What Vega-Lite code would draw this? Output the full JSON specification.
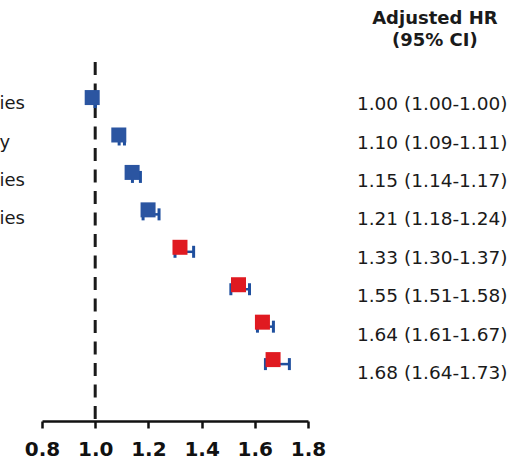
{
  "$schema": "https://vega.github.io/schema/vega-lite/v6.json",
  "autosize": {"type": "none"},
  "padding": {"left": 42, "top": 62, "right": 204, "bottom": 46},
  "width": 266,
  "height": 359,
  "background": "white",
  "config": {
    "view": {"stroke": null},
    "font": "DejaVu Sans",
    "axisX": {
      "values": [0.8, 1.0, 1.2, 1.4, 1.6, 1.8],
      "format": ".1f",
      "grid": false,
      "labelFont": "DejaVu Sans",
      "labelFontWeight": "bold",
      "labelFontSize": 20,
      "labelColor": "#111111",
      "labelPadding": 11,
      "labelFlush": false,
      "labelOverlap": false,
      "domainColor": "#111111",
      "domainWidth": 2.5,
      "tickColor": "#111111",
      "tickWidth": 2.5,
      "tickSize": 7
    }
  },
  "datasets": {
    "rows": [
      {"row": 1, "hr": 1.00, "lo": 1.00, "hi": 1.00, "tier": "reference", "label": "ies"},
      {"row": 2, "hr": 1.10, "lo": 1.09, "hi": 1.11, "tier": "reference", "label": "y"},
      {"row": 3, "hr": 1.15, "lo": 1.14, "hi": 1.17, "tier": "reference", "label": "ies"},
      {"row": 4, "hr": 1.21, "lo": 1.18, "hi": 1.24, "tier": "reference", "label": "ies"},
      {"row": 5, "hr": 1.33, "lo": 1.30, "hi": 1.37, "tier": "elevated", "label": ""},
      {"row": 6, "hr": 1.55, "lo": 1.51, "hi": 1.58, "tier": "elevated", "label": ""},
      {"row": 7, "hr": 1.64, "lo": 1.61, "hi": 1.67, "tier": "elevated", "label": ""},
      {"row": 8, "hr": 1.68, "lo": 1.64, "hi": 1.73, "tier": "elevated", "label": ""}
    ],
    "header": [
      {"line": "Adjusted HR", "pos": -1.22},
      {"line": "(95% CI)", "pos": -0.64}
    ],
    "reference": [{"ref": 1.0}]
  },
  "data": {"name": "rows"},
  "layer": [
    {
      "layer": [
        {
          "data": {"name": "reference"},
          "mark": {"type": "rule", "color": "#1a1a1a", "strokeWidth": 3, "strokeDash": [13, 8.5]},
          "encoding": {
            "x": {"field": "ref", "type": "quantitative", "title": null,
                  "scale": {"domain": [0.8, 1.8], "nice": false, "zero": false}}
          }
        },
        {
          "mark": {"type": "rule", "color": "#1f4f9e", "strokeWidth": 2.5, "opacity": 1},
          "encoding": {
            "x": {"field": "lo", "type": "quantitative", "title": null,
                  "scale": {"domain": [0.8, 1.8], "nice": false, "zero": false}},
            "x2": {"field": "hi"},
            "y": {"field": "row", "type": "quantitative", "axis": null,
                  "scale": {"domain": [-0.07, 9.52], "nice": false, "zero": false, "reverse": true}}
          }
        },
        {
          "mark": {"type": "tick", "orient": "vertical", "color": "#1f4f9e", "size": 12, "thickness": 3, "opacity": 1},
          "encoding": {
            "x": {"field": "lo", "type": "quantitative", "title": null,
                  "scale": {"domain": [0.8, 1.8], "nice": false, "zero": false}},
            "y": {"field": "row", "type": "quantitative", "axis": null,
                  "scale": {"domain": [-0.07, 9.52], "nice": false, "zero": false, "reverse": true}}
          }
        },
        {
          "mark": {"type": "tick", "orient": "vertical", "color": "#1f4f9e", "size": 12, "thickness": 3, "opacity": 1},
          "encoding": {
            "x": {"field": "hi", "type": "quantitative", "title": null,
                  "scale": {"domain": [0.8, 1.8], "nice": false, "zero": false}},
            "y": {"field": "row", "type": "quantitative", "axis": null,
                  "scale": {"domain": [-0.07, 9.52], "nice": false, "zero": false, "reverse": true}}
          }
        },
        {
          "mark": {"type": "point", "shape": "square", "filled": true, "size": 225,
                   "opacity": 1, "xOffset": -3, "yOffset": -4.5},
          "encoding": {
            "x": {"field": "hr", "type": "quantitative", "title": null,
                  "scale": {"domain": [0.8, 1.8], "nice": false, "zero": false}},
            "y": {"field": "row", "type": "quantitative", "axis": null,
                  "scale": {"domain": [-0.07, 9.52], "nice": false, "zero": false, "reverse": true}},
            "color": {"field": "tier", "type": "nominal", "legend": null,
                      "scale": {"domain": ["reference", "elevated"], "range": ["#2b55a1", "#e01a21"]}}
          }
        }
      ]
    },
    {
      "layer": [
        {
          "transform": [
            {"calculate": "format(datum.hr, '.2f') + ' (' + format(datum.lo, '.2f') + '-' + format(datum.hi, '.2f') + ')'", "as": "ci"}
          ],
          "mark": {"type": "text", "align": "left", "baseline": "middle", "fontSize": 18.5, "color": "#1a1a1a"},
          "encoding": {
            "x": {"datum": 1.984, "type": "quantitative",
                  "scale": {"domain": [0.8, 1.8], "nice": false, "zero": false}},
            "y": {"field": "row", "type": "quantitative", "axis": null,
                  "scale": {"domain": [-0.091, 9.234], "nice": false, "zero": false, "reverse": true}},
            "text": {"field": "ci"}
          }
        },
        {
          "mark": {"type": "text", "align": "left", "baseline": "middle", "fontSize": 18, "color": "#1a1a1a"},
          "encoding": {
            "x": {"datum": 0.64, "type": "quantitative",
                  "scale": {"domain": [0.8, 1.8], "nice": false, "zero": false}},
            "y": {"field": "row", "type": "quantitative", "axis": null,
                  "scale": {"domain": [-0.091, 9.234], "nice": false, "zero": false, "reverse": true}},
            "text": {"field": "label"}
          }
        },
        {
          "data": {"name": "header"},
          "mark": {"type": "text", "align": "center", "baseline": "middle", "fontSize": 18,
                   "fontWeight": "bold", "color": "#1a1a1a"},
          "encoding": {
            "x": {"datum": 2.277, "type": "quantitative",
                  "scale": {"domain": [0.8, 1.8], "nice": false, "zero": false}},
            "y": {"field": "pos", "type": "quantitative", "axis": null,
                  "scale": {"domain": [-0.091, 9.234], "nice": false, "zero": false, "reverse": true}},
            "text": {"field": "line"}
          }
        }
      ]
    }
  ],
  "resolve": {"scale": {"y": "independent"}}
}
